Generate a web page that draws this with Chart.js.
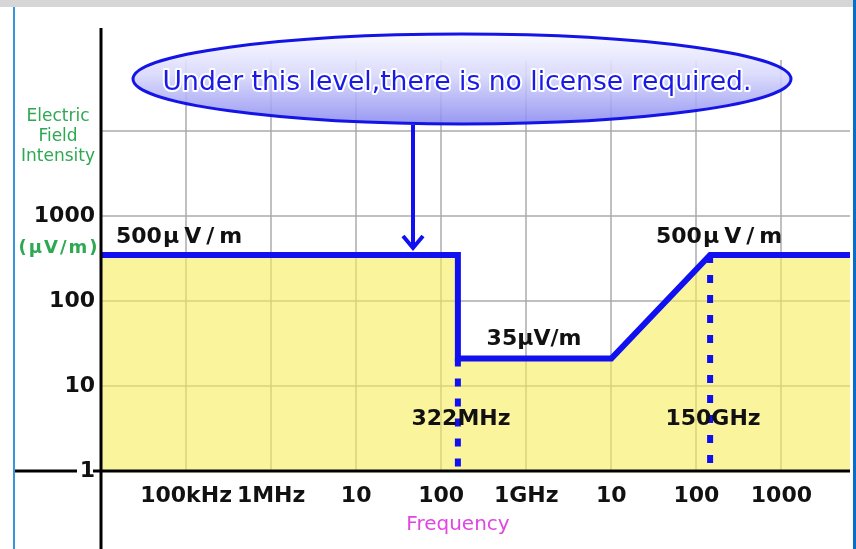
<!DOCTYPE html>
<html>
<head>
<meta charset="utf-8">
<script src="https://cdn.jsdelivr.net/npm/chart.js@4"></script>
<style>
  html, body { margin: 0; padding: 0; background: #fff; }
  canvas { display: block; }
</style>
</head>
<body>
<canvas id="chart" width="856" height="549"></canvas>
<script>
// limit line as drawn: frequency (Hz) and field strength (uV/m)
const limitFreq = [1e4, 1.57e8, 1.57e8, 1e10, 1.45e11, 6.4e12];
const limitLevel = [348, 348, 21, 21, 348, 348];

// dashed markers at 322MHz and 150GHz
const markerFreq = [1.57e8, 1.45e11];
const markerTop = [21, 348];

const xTickValues = [1e5, 1e6, 1e7, 1e8, 1e9, 1e10, 1e11, 1e12];
const xTickLabels = ['100kHz', '1MHz', '10', '100', '1GHz', '10', '100', '1000'];
const yTickValues = [1, 10, 100, 1000, 10000];
const yTickLabels = ['1', '10', '100', '1000', ''];

const BLUE = '#1010f0';
const tickFont = { family: 'DejaVu Sans', weight: 'bold', size: 22 };

function label(c, text, x, y, spacing) {
  c.letterSpacing = (spacing || 0) + 'px';
  c.fillText(text, x + (spacing || 0) / 2, y);
  c.letterSpacing = '0px';
}

// "500 µ V / m" style label, digits tight, unit spread out
function levelLabel(c, x, y) {
  c.textAlign = 'left';
  c.fillText('500', x, y);
  c.letterSpacing = '5px';
  c.fillText('µV/m', x + 47, y);
  c.letterSpacing = '0px';
  c.textAlign = 'center';
}

const decor = {
  id: 'decor',
  beforeDraw(chart) {
    const c = chart.ctx;
    c.save();
    c.fillStyle = '#fff';
    c.fillRect(0, 0, 856, 549);
    c.fillStyle = '#d6d6d6';
    c.fillRect(0, 0, 853, 7);
    c.fillStyle = '#3a96dc';
    c.fillRect(13, 7, 2, 542);
    c.fillStyle = '#0a6ec8';
    c.fillRect(853, 0, 3, 549);
    c.restore();
  },
  afterDatasetsDraw(chart) {
    const c = chart.ctx;
    const area = chart.chartArea;
    c.save();

    // axes
    c.strokeStyle = '#000';
    c.lineWidth = 3;
    c.beginPath();
    c.moveTo(area.left, 28);
    c.lineTo(area.left, 549);
    c.moveTo(15, area.bottom);
    c.lineTo(77, area.bottom);
    c.moveTo(93, area.bottom);
    c.lineTo(area.right, area.bottom);
    c.stroke();

    // value labels
    c.fillStyle = '#111';
    c.font = 'bold 22px "DejaVu Sans"';
    c.textAlign = 'center';
    c.textBaseline = 'middle';
    levelLabel(c, 116, 237);
    levelLabel(c, 656, 237);
    label(c, '35µV/m', 534, 339);
    label(c, '322MHz', 461, 419);
    label(c, '150GHz', 713, 419);

    // y title
    c.fillStyle = '#2fa852';
    c.font = '17px "DejaVu Sans"';
    label(c, 'Electric', 58, 117);
    label(c, 'Field', 58, 137);
    label(c, 'Intensity', 58, 157);
    c.font = 'bold 18px "DejaVu Sans"';
    label(c, '(µV/m)', 58, 248, 2);

    // x title
    c.fillStyle = '#e046e0';
    c.font = '20px "DejaVu Sans"';
    label(c, 'Frequency', 458, 525);

    // callout
    c.beginPath();
    c.ellipse(462, 79, 329, 45, 0, 0, Math.PI * 2);
    const g = c.createLinearGradient(0, 34, 0, 124);
    g.addColorStop(0, 'rgba(250,250,255,0.92)');
    g.addColorStop(0.45, 'rgba(215,215,252,0.88)');
    g.addColorStop(1, 'rgba(135,135,240,0.85)');
    c.fillStyle = g;
    c.fill();
    c.lineWidth = 3;
    c.strokeStyle = '#1414e6';
    c.stroke();

    const msg = 'Under this level,there is no license required.';
    c.font = '27px "DejaVu Sans"';
    const w = c.measureText(msg).width;
    c.font = (27 * 590 / w).toFixed(1) + 'px "DejaVu Sans"';
    c.textBaseline = 'alphabetic';
    c.lineJoin = 'round';
    c.lineWidth = 4;
    c.strokeStyle = '#fff';
    c.strokeText(msg, 457, 90);
    c.fillStyle = '#1a1ae6';
    c.fillText(msg, 457, 90);

    // arrow
    c.strokeStyle = BLUE;
    c.lineWidth = 4;
    c.lineCap = 'butt';
    c.beginPath();
    c.moveTo(413, 125);
    c.lineTo(413, 248);
    c.stroke();
    c.lineJoin = 'miter';
    c.beginPath();
    c.moveTo(403, 236);
    c.lineTo(413, 248);
    c.lineTo(423, 236);
    c.stroke();

    c.restore();
  }
};

const datasets = [{
  data: limitFreq.map((f, i) => ({ x: f, y: limitLevel[i] })),
  borderColor: BLUE,
  borderWidth: 6,
  borderJoinStyle: 'miter',
  borderCapStyle: 'butt',
  backgroundColor: 'rgba(247,237,90,0.6)',
  fill: 'start',
  pointRadius: 0,
  tension: 0
}];
markerFreq.forEach((f, i) => {
  datasets.push({
    data: [{ x: f, y: markerTop[i] }, { x: f, y: 1 }],
    borderColor: BLUE,
    borderWidth: 6,
    borderDash: [8, 12],
    borderCapStyle: 'butt',
    fill: false,
    pointRadius: 0
  });
});

new Chart(document.getElementById('chart'), {
  type: 'line',
  data: { datasets: datasets },
  plugins: [decor],
  options: {
    responsive: false,
    animation: false,
    layout: { padding: { left: 0, right: 6, top: 60, bottom: 0 } },
    plugins: {
      legend: { display: false },
      tooltip: { enabled: false },
      filler: { drawTime: 'beforeDatasetsDraw' }
    },
    scales: {
      x: {
        type: 'logarithmic',
        min: 1e4,
        max: 6.4e12,
        afterBuildTicks: s => { s.ticks = xTickValues.map(v => ({ value: v })); },
        afterFit: s => { s.height = 78; },
        grid: { color: 'rgba(165,165,165,0.7)', lineWidth: 2, drawTicks: false },
        border: { display: false },
        ticks: {
          autoSkip: false,
          maxRotation: 0,
          minRotation: 0,
          padding: 12,
          color: '#111',
          font: tickFont,
          callback: (v, i) => xTickLabels[i]
        }
      },
      y: {
        type: 'logarithmic',
        min: 1,
        max: 68400,
        afterBuildTicks: s => { s.ticks = yTickValues.map(v => ({ value: v })); },
        afterFit: s => { s.width = 101; },
        grid: { color: 'rgba(165,165,165,0.7)', lineWidth: 2, drawTicks: false },
        border: { display: false },
        ticks: {
          padding: 6,
          color: '#111',
          font: tickFont,
          callback: (v, i) => yTickLabels[i]
        }
      }
    }
  }
});
</script>
</body>
</html>
